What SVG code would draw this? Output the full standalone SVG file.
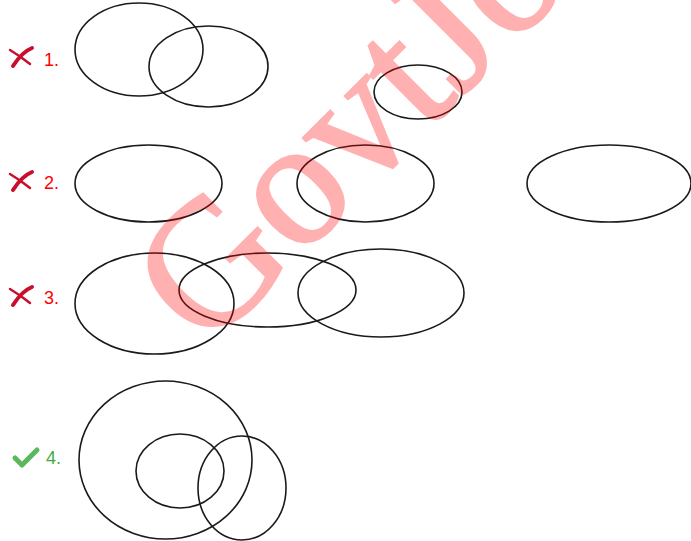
<svg xmlns="http://www.w3.org/2000/svg" width="691" height="541" viewBox="0 0 691 541">
<style>
.e{fill:none;stroke:#1a1a1a;stroke-width:1.6}
.lbl{font-family:"Liberation Sans",Arial,sans-serif;font-size:18px}
.bad{fill:#f00}
.ok{fill:#3cae3c}
.xa{fill:none;stroke:#c8102e;stroke-linecap:round}
.wm{font-family:"Liberation Serif","Times New Roman",serif;font-size:180px;fill:#f00;stroke:#f00;stroke-width:2.5;opacity:0.3}
</style>
<rect width="691" height="541" fill="#fff"/>
<g id="option1">
  <path class="xa" d="M10 50 Q20 56 30 64" stroke-width="2.5"/>
  <path class="xa" d="M32 48 Q22 52 13 66" stroke-width="4"/>
  <text class="lbl bad" x="44" y="66">1.</text>
  <ellipse class="e" cx="139" cy="49.5" rx="64" ry="46.5"/>
  <ellipse class="e" cx="208.5" cy="66.5" rx="59.5" ry="40.5"/>
  <ellipse class="e" cx="418" cy="92" rx="44" ry="27"/>
</g>
<g id="option2">
  <path class="xa" d="M10 174 Q20 180 30 188" stroke-width="2.5"/>
  <path class="xa" d="M32 172 Q22 176 13 190" stroke-width="4"/>
  <text class="lbl bad" x="44" y="189">2.</text>
  <ellipse class="e" cx="148.5" cy="183.5" rx="73.5" ry="38.5"/>
  <ellipse class="e" cx="365.5" cy="183.5" rx="68.5" ry="38.5"/>
  <ellipse class="e" cx="609" cy="183.5" rx="82" ry="38.5"/>
</g>
<g id="option3">
  <path class="xa" d="M10 289 Q20 295 30 303" stroke-width="2.5"/>
  <path class="xa" d="M32 287 Q22 291 13 305" stroke-width="4"/>
  <text class="lbl bad" x="44" y="304">3.</text>
  <ellipse class="e" cx="154.5" cy="303.5" rx="79.5" ry="50.5"/>
  <ellipse class="e" cx="267.5" cy="290" rx="88.5" ry="37"/>
  <ellipse class="e" cx="381" cy="293" rx="83" ry="44"/>
</g>
<g id="option4">
  <path d="M15 458 L22 465 L37 450" fill="none" stroke="#5cb85c" stroke-width="5" stroke-linecap="round" stroke-linejoin="round"/>
  <text class="lbl ok" x="46" y="464">4.</text>
  <ellipse class="e" cx="165.5" cy="460" rx="86.5" ry="79"/>
  <ellipse class="e" cx="180" cy="471" rx="44" ry="37"/>
  <ellipse class="e" cx="242" cy="488" rx="44" ry="52"/>
</g>
<g id="connectors"></g>
<text class="wm" x="206" y="352" transform="rotate(-45 206 352)">GovtJo</text>
</svg>
